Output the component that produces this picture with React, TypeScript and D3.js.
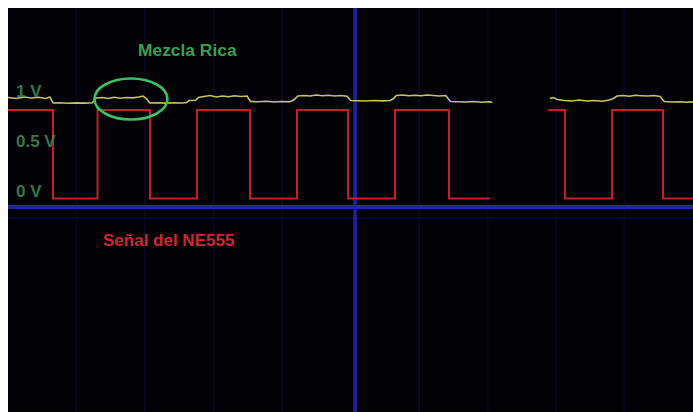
import React from "react";
import * as d3 from "d3";

// Time in ms across the screen (0..100), voltage in V
const timeDomain: [number, number] = [0, 100];
const voltLabels = [
  { v: 1, text: "1 V" },
  { v: 0.5, text: "0.5 V" },
  { v: 0, text: "0 V" },
];

// NE555 square wave (step-after), null = no signal
const redT = [0, 6.57, 13.07, 20.73, 27.59, 35.33, 42.19, 49.64, 56.5, 64.38, 70.36, 70.37, 78.83, 81.31, 88.18, 95.62, 100];
const redV: (number | null)[] = [0.885, 0, 0.885, 0, 0.885, 0, 0.885, 0, 0.885, 0, 0, null, 0.885, 0, 0.885, 0, 0];

// Mixture sensor signal (hand-read points)
const yellowT = [
  0, 1.2, 2.4, 3.4, 4.5, 5.5, 6.1, 6.3, 6.6,
  7.5, 8.8, 10.0, 11.2, 12.3, 12.6, 12.9,
  13.8, 14.6, 15.5, 16.4, 17.3, 18.2, 19.1, 19.7, 20.2, 20.7,
  21.8, 23.0, 24.2, 25.4, 26.1, 26.4, 27.4, 27.8,
  28.6, 29.5, 30.4, 31.3, 32.2, 33.1, 34.0, 34.9, 35.4,
  36.5, 37.7, 38.9, 40.0, 41.2, 41.8, 42.3,
  43.2, 44.1, 45.0, 45.9, 46.8, 47.7, 48.6, 49.5, 50.0,
  51.0, 52.2, 53.4, 54.6, 55.8, 56.3, 56.7,
  57.6, 58.5, 59.4, 60.3, 61.2, 62.1, 63.0, 63.9, 64.6,
  65.7, 66.9, 68.0, 69.2, 70.3, 70.7,
  75.0,
  79.1, 79.6, 80.2, 81.2, 82.3, 83.4, 84.5, 85.6, 86.7, 87.8, 88.4, 88.9,
  89.8, 90.7, 91.6, 92.5, 93.4, 94.3, 95.2, 95.8, 96.9, 98.0, 99.0, 100,
];
const yellowV: (number | null)[] = [
  1.01, 1.0, 1.015, 1.005, 1.012, 1.0, 1.015, 0.99, 0.955,
  0.957, 0.953, 0.956, 0.954, 0.958, 0.985, 1.005,
  1.01, 1.0, 1.012, 1.003, 1.01, 1.006, 1.015, 1.025, 1.0, 0.955,
  0.957, 0.954, 0.958, 0.955, 0.96, 0.98, 0.982, 1.01,
  1.02, 1.03, 1.015, 1.025, 1.018, 1.028, 1.02, 1.025, 0.97,
  0.968, 0.972, 0.965, 0.97, 0.967, 0.99, 1.025,
  1.03, 1.025, 1.035, 1.028, 1.032, 1.025, 1.03, 1.022, 0.98,
  0.978, 0.975, 0.98, 0.976, 0.98, 1.0, 1.03,
  1.035, 1.028, 1.033, 1.027, 1.035, 1.03, 1.025, 1.03, 0.97,
  0.968, 0.965, 0.97, 0.962, 0.968, 0.96,
  null,
  1.0, 1.01, 0.99, 0.98, 0.975, 0.985, 0.975, 0.98, 0.972, 0.985, 1.0, 1.025,
  1.03, 1.022, 1.032, 1.028, 1.025, 1.03, 1.02, 0.97, 0.965, 0.968, 0.962, 0.966,
];

const groundLevel = -0.085; // blue channel reference
const triggerTime = 50.66; // blue vertical cursor
const faintLevel = -0.195;
const gridTimes = [10, 20, 30, 40, 60, 70, 80, 90];
const highlight = { t: 17.95, v: 0.995, dt: 5.33, dv: 0.205 };
const titleTop = "Mezcla Rica";
const titleBottom = "Señal del NE555";

const W = 685;
const H = 404;

export default function App() {
  const x = d3.scaleLinear().domain(timeDomain).range([0, W]);
  const y = d3.scaleLinear().domain([0, 1]).range([190.5, 90.5]);

  const redData = redT.map((t, i) => ({ t, v: redV[i] }));
  const yellowData = yellowT.map((t, i) => ({ t, v: yellowV[i] }));

  const redLine = d3
    .line<{ t: number; v: number | null }>()
    .defined((d) => d.v !== null)
    .x((d) => x(d.t))
    .y((d) => y(d.v as number))
    .curve(d3.curveStepAfter);

  const yellowLine = d3
    .line<{ t: number; v: number | null }>()
    .defined((d) => d.v !== null)
    .x((d) => x(d.t))
    .y((d) => y(d.v as number))
    .curve(d3.curveLinear);

  const font = "'Liberation Sans', Arial, sans-serif";

  return (
    <svg
      width={W}
      height={H}
      style={{ position: "absolute", left: 8, top: 8, display: "block" }}
    >
      <rect x={0} y={0} width={W} height={H} fill="#020206" />
      {gridTimes.map((t) => (
        <line key={t} x1={x(t)} x2={x(t)} y1={0} y2={H} stroke="#07071a" strokeWidth={2} />
      ))}
      <line x1={0} x2={W} y1={y(faintLevel)} y2={y(faintLevel)} stroke="#08082e" strokeWidth={2} />

      {/* blue reference lines */}
      <line x1={0} x2={W} y1={y(groundLevel)} y2={y(groundLevel)} stroke="#1c28a8" strokeWidth={4} />
      <line x1={x(triggerTime)} x2={x(triggerTime)} y1={0} y2={H} stroke="#1c22b0" strokeWidth={3.5} />

      {/* traces */}
      <path d={redLine(redData) || ""} fill="none" stroke="#c81c26" strokeWidth={2} />
      <path d={yellowLine(yellowData) || ""} fill="none" stroke="#c6c460" strokeWidth={1.6} />

      {/* highlight ellipse */}
      <ellipse
        cx={x(highlight.t)}
        cy={y(highlight.v)}
        rx={x(highlight.dt) - x(0)}
        ry={y(0) - y(highlight.dv)}
        fill="none"
        stroke="#3cc064"
        strokeWidth={2.6}
      />

      {/* voltage labels */}
      {voltLabels.map((l) => (
        <text
          key={l.text}
          x={8}
          y={y(l.v) - 2}
          fill="#3f8c55"
          fontFamily={font}
          fontWeight="bold"
          fontSize={17}
          opacity={0.85}
        >
          {l.text}
        </text>
      ))}

      <text x={130} y={48} fill="#36a050" fontFamily={font} fontWeight="bold" fontSize={17.4}>
        {titleTop}
      </text>
      <text x={95} y={238} fill="#cc2833" fontFamily={font} fontWeight="bold" fontSize={17}>
        {titleBottom}
      </text>
    </svg>
  );
}
